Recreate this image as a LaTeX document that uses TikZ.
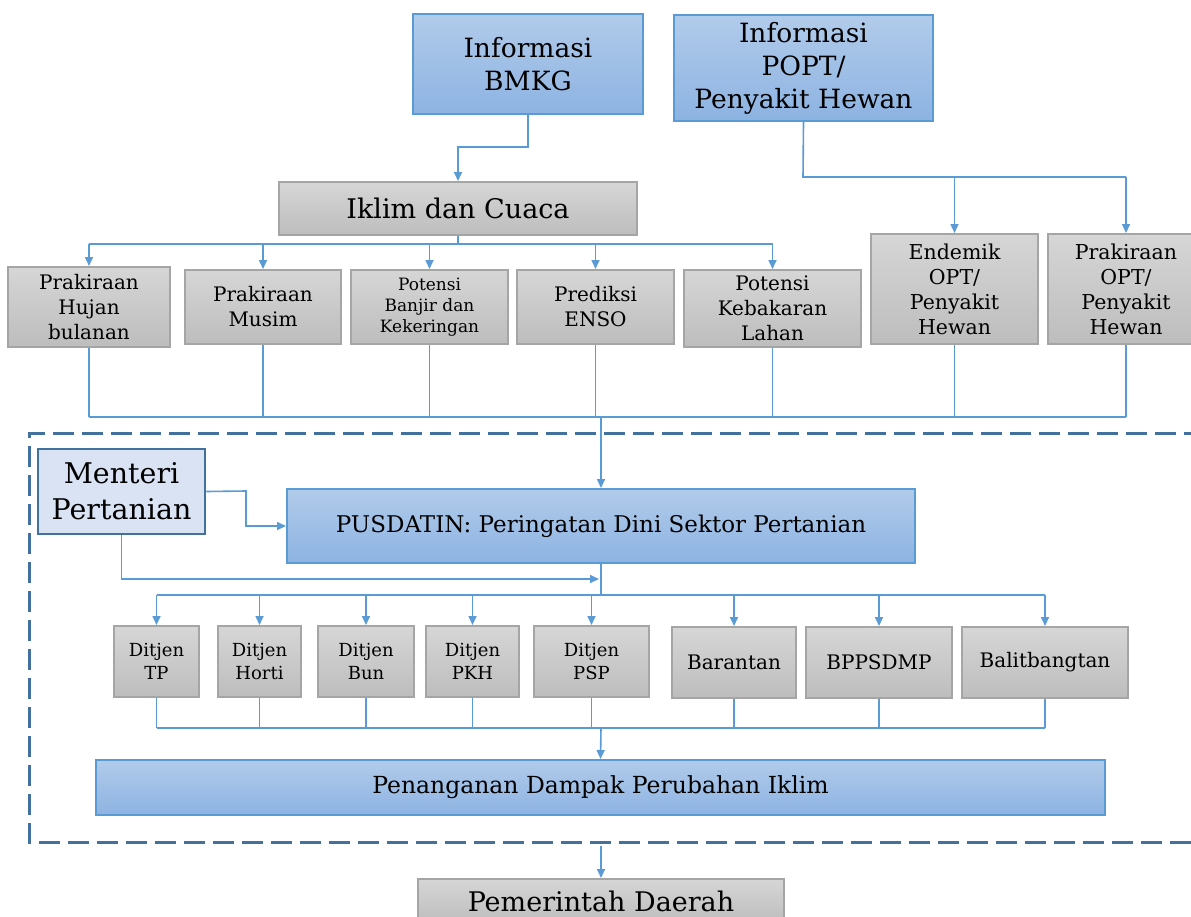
\documentclass[tikz,border=0pt]{standalone}
\usepackage{fontspec}
\setmainfont{DejaVu Serif}
\usetikzlibrary{arrows.meta}
\definecolor{conn}{HTML}{5B9BD5}
\definecolor{bluetop}{HTML}{B1CBEA}
\definecolor{bluebot}{HTML}{8DB3E2}
\definecolor{bluebd}{HTML}{5B9BD5}
\definecolor{graytop}{HTML}{D6D6D6}
\definecolor{graybot}{HTML}{BDBDBD}
\definecolor{graybd}{HTML}{A5A5A5}
\definecolor{dashbd}{HTML}{41719C}
\definecolor{mentfill}{HTML}{DAE3F3}
\newcommand{\fsz}[2]{\fontsize{#1}{#2}\selectfont}
\tikzset{
  bluebox/.style={draw=bluebd, line width=2pt, top color=bluetop, bottom color=bluebot, inner sep=0pt, align=center},
  graybox/.style={draw=graybd, line width=2pt, top color=graytop, bottom color=graybot, inner sep=0pt, align=center},
  mentbox/.style={draw=dashbd, line width=2.5pt, fill=mentfill, inner sep=0pt, align=center},
  conline/.style={draw=conn, line width=1.6pt},
  conarrow/.style={conline, -{Triangle[length=9pt,width=8pt]}},
  dashframe/.style={draw=dashbd, line width=3pt, dash pattern=on 21pt off 8pt},
}
\begin{document}
\begin{tikzpicture}[x=1pt,y=-1pt]
\useasboundingbox (0,0) rectangle (1191,916);
\fill[white] (0,0) rectangle (1191,916);
% dashed frame
\draw[dashframe] (1205,433) -- (29,433) -- (29,842) -- (1205,842);
% top boxes
\node[bluebox, minimum width=230pt, minimum height=100pt, font=\fsz{26.5}{33}] (bmkg) at (528,64) {Informasi\\BMKG};
\node[bluebox, minimum width=259pt, minimum height=106pt, font=\fsz{26.5}{33}] (popt) at (803.5,68) {Informasi\\POPT/\\Penyakit Hewan};
\node[graybox, minimum width=358pt, minimum height=53pt, font=\fsz{27}{30}] (iklim) at (458,208.5) {Iklim dan Cuaca};
% second row
\node[graybox, minimum width=162pt, minimum height=80pt, font=\fsz{20}{25}] (hujan) at (89,307) {Prakiraan\\Hujan\\bulanan};
\node[graybox, minimum width=156pt, minimum height=74pt, font=\fsz{20}{25}] (musim) at (263,307) {Prakiraan\\Musim};
\node[graybox, minimum width=157pt, minimum height=74pt, font=\fsz{17}{21}] (banjir) at (429.5,307) {Potensi\\Banjir dan\\Kekeringan};
\node[graybox, minimum width=157pt, minimum height=74pt, font=\fsz{20}{25}] (enso) at (595.5,307) {Prediksi\\ENSO};
\node[graybox, minimum width=177pt, minimum height=77pt, font=\fsz{20}{25}] (keba) at (772.5,308.5) {Potensi\\Kebakaran\\Lahan};
\node[graybox, minimum width=167pt, minimum height=110pt, font=\fsz{20.5}{25}] (endemik) at (954.5,289) {Endemik\\OPT/\\Penyakit\\Hewan};
\node[graybox, minimum width=156pt, minimum height=110pt, font=\fsz{20.5}{25}] (prakopt) at (1126,289) {Prakiraan\\OPT/\\Penyakit\\Hewan};
% menteri & pusdatin
\node[mentbox, minimum width=167pt, minimum height=85pt, font=\fsz{28.5}{36}] (menteri) at (121.5,491.5) {Menteri\\Pertanian};
\node[bluebox, minimum width=628pt, minimum height=74pt, font=\fsz{23}{28}] (pusdatin) at (601,526) {PUSDATIN: Peringatan Dini Sektor Pertanian};
% ditjen row
\node[graybox, minimum width=85pt, minimum height=71pt, font=\fsz{18}{23}] (tp) at (156.5,661.5) {Ditjen\\TP};
\node[graybox, minimum width=83pt, minimum height=71pt, font=\fsz{18}{23}] (horti) at (259.5,661.5) {Ditjen\\Horti};
\node[graybox, minimum width=96pt, minimum height=71pt, font=\fsz{18}{23}] (bun) at (366,661.5) {Ditjen\\Bun};
\node[graybox, minimum width=93pt, minimum height=71pt, font=\fsz{18}{23}] (pkh) at (472.5,661.5) {Ditjen\\PKH};
\node[graybox, minimum width=115pt, minimum height=71pt, font=\fsz{18}{23}] (psp) at (591.5,661.5) {Ditjen\\PSP};
\node[graybox, minimum width=124pt, minimum height=71pt, font=\fsz{20}{23}] (barantan) at (734,662.5) {Barantan};
\node[graybox, minimum width=146pt, minimum height=71pt, font=\fsz{20}{23}] (bppsdmp) at (879,662.5) {BPPSDMP};
\node[graybox, minimum width=166pt, minimum height=71pt, font=\fsz{20}{23}] (balit) at (1045,662.5) {Balitbangtan};
% bottom
\node[bluebox, minimum width=1009pt, minimum height=55pt, font=\fsz{23.5}{28}] (penang) at (600.5,787.5) {Penanganan Dampak Perubahan Iklim};
\node[graybox, minimum width=366pt, minimum height=44pt, font=\fsz{27}{32}] (pemda) at (601,901) {Pemerintah Daerah};
% connectors: BMKG -> Iklim
\draw[conarrow] (bmkg.south) |- (458,147) -- (iklim.north);
% Iklim -> row
\coordinate (ibus) at (458,244);
\draw[conline] (iklim.south) -- (ibus);
\draw[conline] (89,244) -- (773,244);
\foreach \n in {hujan,musim,banjir,enso,keba}{
  \draw[conarrow] (\n.north |- ibus) -- (\n.north);
}
% POPT -> endemik, prakopt
\coordinate (pbus) at (803,177);
\draw[conline] (popt.south) -- (pbus) -- (prakopt.north |- pbus);
\draw[conarrow] (endemik.north |- pbus) -- (endemik.north);
\draw[conarrow] (prakopt.north |- pbus) -- (prakopt.north);
% row -> bus -> pusdatin
\coordinate (lbus) at (601,417);
\foreach \n in {hujan,musim,banjir,enso,keba,endemik,prakopt}{
  \draw[conline] (\n.south) -- (\n.south |- lbus);
}
\draw[conline] (hujan.south |- lbus) -- (prakopt.south |- lbus);
\draw[conarrow] (lbus) -- (pusdatin.north);
% menteri -> pusdatin
\draw[conarrow] (menteri.east) -- (246,491) |- (pusdatin.west);
\coordinate (mend) at (599,579);
\draw[conarrow] (menteri.south) |- (mend);
% pusdatin -> ditjen bus
\coordinate (dbus) at (601,595);
\draw[conline] (pusdatin.south) -- (dbus);
\draw[conline] (tp.north |- dbus) -- (balit.north |- dbus);
\foreach \n in {tp,horti,bun,pkh,psp,barantan,bppsdmp,balit}{
  \draw[conarrow] (\n.north |- dbus) -- (\n.north);
}
% ditjen -> penanganan
\coordinate (bbus) at (601,728);
\foreach \n in {tp,horti,bun,pkh,psp,barantan,bppsdmp,balit}{
  \draw[conline] (\n.south) -- (\n.south |- bbus);
}
\draw[conline] (tp.south |- bbus) -- (balit.south |- bbus);
\draw[conarrow] (bbus) -- (penang.north);
% to pemda
\coordinate (pstart) at (601,846);
\draw[conarrow] (pstart) -- (pemda.north);
\end{tikzpicture}
\end{document}
